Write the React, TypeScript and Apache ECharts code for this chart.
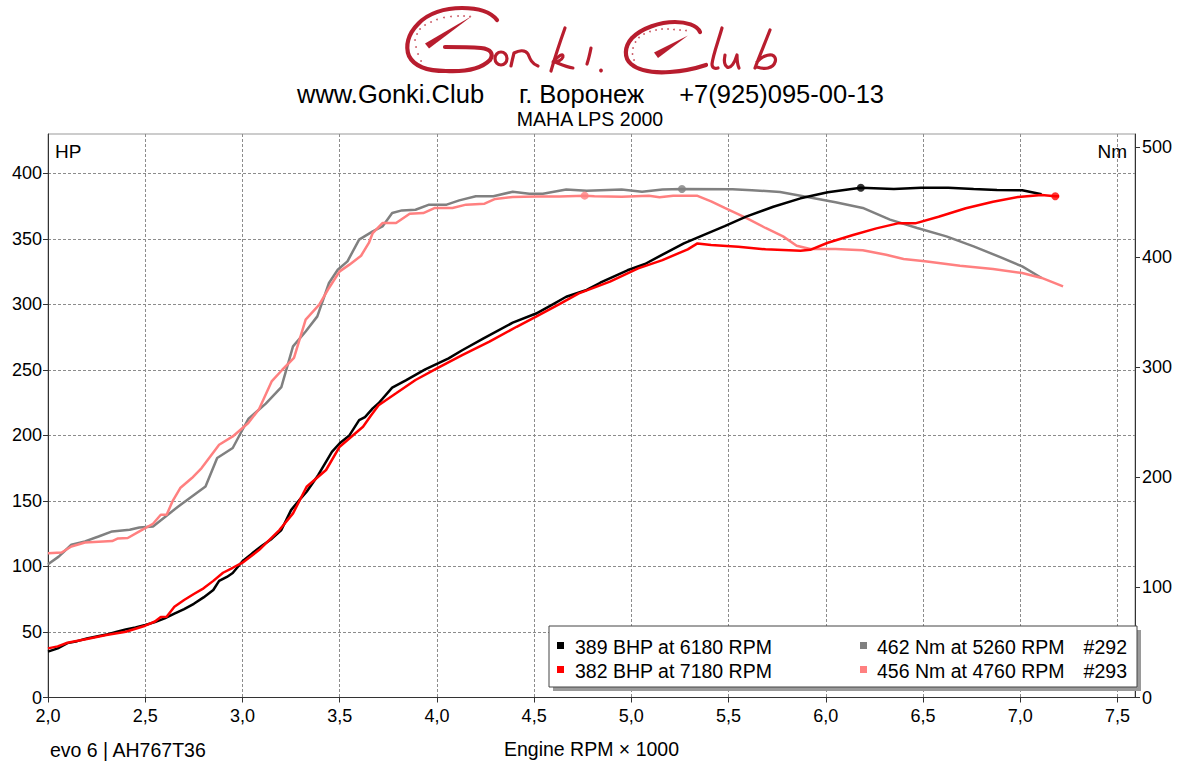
import React, { useEffect, useRef } from "react";
import * as echarts from "echarts";

// ---------- data ----------
const X_TICKS = [2.0, 2.5, 3.0, 3.5, 4.0, 4.5, 5.0, 5.5, 6.0, 6.5, 7.0, 7.5];
const HP_TICKS = [0, 50, 100, 150, 200, 250, 300, 350, 400];
const NM_TICKS = [0, 100, 200, 300, 400, 500];

// run #292 power (BHP) vs RPM x1000
const BHP_292: [number, number][] = [
  [2.0, 35], [2.05, 37.5], [2.1, 41.5], [2.15, 43], [2.2, 45], [2.25, 46.5], [2.3, 48], [2.35, 50],
  [2.4, 52], [2.45, 53.5], [2.5, 55.3], [2.55, 57.5], [2.6, 60.4], [2.65, 64], [2.7, 67.5], [2.75, 71.5],
  [2.8, 76.4], [2.85, 82], [2.88, 89], [2.92, 92], [2.95, 95], [3.0, 104], [3.05, 110], [3.1, 115.8],
  [3.15, 121], [3.2, 127.8], [3.25, 143], [3.3, 152], [3.33, 157], [3.39, 169.8], [3.46, 187.5], [3.5, 194],
  [3.55, 200], [3.6, 211.7], [3.63, 214], [3.67, 220.6], [3.7, 224.5], [3.77, 236.5], [3.84, 242], [3.94, 250.4],
  [4.06, 258.8], [4.13, 265], [4.24, 274], [4.39, 286], [4.51, 293], [4.58, 298.7], [4.665, 305.8], [4.77, 311],
  [4.84, 316.5], [4.98, 326], [5.07, 330.8], [5.16, 338], [5.27, 346.5], [5.37, 352.9], [5.48, 359.7], [5.59, 366.9],
  [5.73, 374.5], [5.87, 380.9], [6.01, 385.5], [6.18, 389], [6.35, 388], [6.49, 389], [6.63, 389], [6.76, 388],
  [6.88, 387.2], [7.01, 387], [7.11, 384],
];

// run #293 power (BHP)
const BHP_293: [number, number][] = [
  [2.0, 37.5], [2.05, 39], [2.1, 41.8], [2.2, 44.6], [2.3, 47.7], [2.4, 50.2], [2.5, 54.8], [2.55, 58],
  [2.58, 61.5], [2.61, 61.6], [2.65, 69.3], [2.7, 74.4], [2.75, 79], [2.8, 83.3], [2.85, 89], [2.9, 95.2],
  [2.95, 99], [3.0, 102.9], [3.085, 112.5], [3.19, 127.8], [3.26, 140.5], [3.33, 160.8], [3.43, 173.6], [3.5, 191.4],
  [3.62, 206.6], [3.66, 215], [3.7, 223], [3.79, 232.1], [3.89, 242.3], [4.0, 251.2], [4.13, 261.3], [4.27, 271.5],
  [4.41, 282.9], [4.51, 290.6], [4.63, 300.2], [4.73, 308.4], [4.89, 317.3], [5.035, 327.5], [5.16, 333.8], [5.29, 342],
  [5.34, 346.5], [5.41, 345.3], [5.55, 344], [5.69, 342], [5.87, 341], [5.92, 341.6], [6.01, 347], [6.14, 352.9],
  [6.26, 358], [6.37, 361.8], [6.46, 361.8], [6.58, 366.9], [6.72, 373.3], [6.86, 378.3], [6.99, 382], [7.11, 383.5],
  [7.18, 382.5], [7.2, 382.5],
];

// run #292 torque (Nm)
const NM_292: [number, number][] = [
  [2.0, 121], [2.055, 128], [2.12, 138.8], [2.19, 141.8], [2.26, 146.3], [2.33, 150.9], [2.42, 152.4], [2.47, 154.5],
  [2.54, 155.4], [2.605, 164.5], [2.67, 173.6], [2.74, 182.7], [2.81, 191.8], [2.87, 217.6], [2.95, 226.7], [3.0, 243.3],
  [3.03, 253], [3.12, 267], [3.2, 282], [3.26, 319], [3.325, 332.6], [3.385, 346.3], [3.445, 376.6], [3.49, 388.7],
  [3.54, 396.3], [3.6, 416], [3.67, 423.5], [3.72, 428], [3.77, 440.2], [3.82, 442.6], [3.89, 443.2], [3.96, 447.8],
  [4.05, 447.8], [4.115, 451.7], [4.2, 455.5], [4.29, 455.5], [4.39, 459.5], [4.475, 457.8], [4.545, 457.8], [4.665, 461.5],
  [4.77, 460.5], [4.95, 461.5], [5.055, 459.5], [5.16, 461.5], [5.26, 462], [5.52, 461.8], [5.62, 461], [5.765, 459.3],
  [5.905, 454.8], [6.05, 449.9], [6.19, 444.8], [6.33, 434.2], [6.47, 426.6], [6.62, 419], [6.76, 409.9], [6.9, 399.9],
  [7.01, 391.7], [7.11, 381.2],
];

// run #293 torque (Nm)
const NM_293: [number, number][] = [
  [2.0, 131], [2.07, 131.8], [2.12, 137.2], [2.19, 140.9], [2.26, 141.5], [2.33, 142.1], [2.36, 144.5], [2.41, 144.9],
  [2.47, 150.9], [2.54, 157.9], [2.58, 166], [2.61, 166], [2.64, 178.1], [2.68, 190.3], [2.74, 199.4], [2.79, 208.5],
  [2.88, 229.7], [2.95, 237.2], [3.03, 249.4], [3.085, 262], [3.15, 287.2], [3.205, 297.8], [3.265, 308.5], [3.325, 343.3],
  [3.395, 356.9], [3.445, 372.1], [3.5, 387.2], [3.55, 393.3], [3.61, 401.4], [3.65, 413], [3.67, 422], [3.72, 431.1],
  [3.79, 431.1], [3.86, 439.6], [3.93, 440.2], [3.99, 444.8], [4.08, 444.8], [4.15, 447.8], [4.245, 448.7], [4.3, 453],
  [4.39, 454.8], [4.51, 455.3], [4.63, 455.3], [4.76, 456], [4.81, 455.5], [4.95, 455], [5.09, 455.8], [5.145, 454.5],
  [5.215, 455.8], [5.34, 455.8], [5.41, 450.8], [5.48, 444.8], [5.59, 435.7], [5.69, 426.6], [5.78, 419], [5.85, 410.5],
  [5.92, 407.5], [6.05, 407.5], [6.19, 406.3], [6.31, 402.3], [6.4, 398.4], [6.51, 396.3], [6.69, 392.3], [6.86, 389.3],
  [7.01, 385.7], [7.11, 381.2], [7.22, 373.5],
];

const PEAK_BHP_292: [number, number] = [6.18, 389];
const PEAK_BHP_293: [number, number] = [7.18, 382.5];
const PEAK_NM_292: [number, number] = [5.26, 462];
const PEAK_NM_293: [number, number] = [4.76, 456];

const LEGEND_ROWS = [
  { left: "389 BHP at 6180 RPM", right: "462 Nm at 5260 RPM", run: "#292", c1: "#000000", c2: "#808080" },
  { left: "382 BHP at 7180 RPM", right: "456 Nm at 4760 RPM", run: "#293", c1: "#ff0000", c2: "#ff8080" },
];

const TITLE_SITE = "www.Gonki.Club";
const TITLE_CITY = "г. Воронеж";
const TITLE_PHONE = "+7(925)095-00-13";
const SUBTITLE = "MAHA LPS 2000";
const FOOTER_LEFT = "evo 6 | AH767T36";
const X_NAME = "Engine RPM × 1000";

// ---------- logo shapes ----------
const LOGO_RED = "#b81d2e";
const LOGO_PATHS: { name: string; d: string; w: number }[] = [
  { name: "logoG", d: "M497,20 C490,11 476,8 462,8 C445,8 428,13 418,24 C408,34 405,46 409,56 C414,66 428,71 446,71 C466,72 482,68 490,60 C494,54 491,49 481,48 C469,47 456,47 445,47", w: 4.2 },
  { name: "logoN", d: "M511,66 C512,61 513,57 514,53 C518,51 525,49 528,54 C530,59 532,64 538,66", w: 3.2 },
  { name: "logoK1", d: "M565,28 C560,42 555,57 551,71", w: 3.2 },
  { name: "logoK2", d: "M553,62 C558,56 564,52 563,57 C562,60 557,62 555,62 C560,64 566,67 573,68", w: 3 },
  { name: "logoI", d: "M591,48 C590,53 589,58 587,64", w: 3.2 },
  { name: "logoC", d: "M700,32 C697,25 686,22 675,22 C660,22 642,28 632,38 C624,47 624,58 631,64 C639,71 655,73 670,72 C685,71 697,68 706,65", w: 4.2 },
  { name: "logoL", d: "M722,28 C718,42 713,55 712,64 C712,68 715,69 718,68", w: 3.2 },
  { name: "logoU", d: "M725,55 C724,60 724,65 727,67 C731,69 735,62 737,55 C737,60 737,64 739,68", w: 3.2 },
  { name: "logoB", d: "M770,30 C765,43 759,57 755,68 M757,62 C761,57 768,54 772,55 C778,57 776,66 768,68 C764,69 760,68 757,67", w: 3.2 },
];
const G_DOTS: [number, number][] = [
  [421, 61], [418, 54], [416, 47], [415, 40], [417, 34], [420, 29], [425, 25], [431, 22], [437, 19.5], [444, 17.5],
  [451, 16.5], [458, 16], [464, 16], [470, 16.5],
];
const C_DOTS: [number, number][] = [
  [634, 60], [632.5, 54], [633, 48], [635.5, 42], [639, 37.5], [644, 34], [650, 31.5], [656, 30], [662, 29],
  [668, 29], [674, 29.5], [680, 30], [686, 30.5],
];

let shapesRegistered = false;
function registerLogo() {
  if (shapesRegistered) return;
  LOGO_PATHS.forEach((p) => {
    echarts.graphic.registerShape(p.name, echarts.graphic.extendPath(p.d, {}));
  });
  shapesRegistered = true;
}

const FONT = '"Liberation Sans", Arial, sans-serif';

function buildGraphic(): any[] {
  const els: any[] = [];
  // logo
  LOGO_PATHS.forEach((p) => {
    els.push({
      type: p.name, x: 0, y: 0, z: 20,
      style: { stroke: LOGO_RED, lineWidth: p.w, fill: null, lineCap: "round", lineJoin: "round" },
    });
  });
  els.push({ type: "ellipse", z: 20, shape: { cx: 501, cy: 58.5, rx: 6, ry: 6.5 }, style: { stroke: LOGO_RED, lineWidth: 3.2, fill: null } });
  els.push({ type: "circle", z: 20, shape: { cx: 601, cy: 70.5, r: 1.9 }, style: { fill: LOGO_RED } });
  els.push({ type: "polygon", z: 20, shape: { points: [[425, 43.5], [429, 48.5], [472, 16]] }, style: { fill: LOGO_RED } });
  els.push({ type: "polygon", z: 20, shape: { points: [[654, 52.5], [658, 58], [688, 35.5]] }, style: { fill: LOGO_RED } });
  [...G_DOTS, ...C_DOTS].forEach(([cx, cy]) => {
    els.push({ type: "circle", z: 20, shape: { cx, cy, r: 0.9 }, style: { fill: LOGO_RED, opacity: 0.75 } });
  });

  // title lines
  const tfont = `25.5px ${FONT}`;
  els.push({ type: "text", x: 297, y: 94, z: 20, style: { text: TITLE_SITE, font: tfont, fill: "#000", textAlign: "left", textVerticalAlign: "middle" } });
  els.push({ type: "text", x: 519, y: 94, z: 20, style: { text: TITLE_CITY, font: tfont, fill: "#000", textAlign: "left", textVerticalAlign: "middle" } });
  els.push({ type: "text", x: 884, y: 94, z: 20, style: { text: TITLE_PHONE, font: tfont, fill: "#000", textAlign: "right", textVerticalAlign: "middle" } });
  els.push({ type: "text", x: 590, y: 119, z: 20, style: { text: SUBTITLE, font: `19.5px ${FONT}`, fill: "#000", textAlign: "center", textVerticalAlign: "middle" } });

  // axis unit labels
  els.push({ type: "text", x: 55, y: 151, z: 20, style: { text: "HP", font: `19px ${FONT}`, fill: "#000", textAlign: "left", textVerticalAlign: "middle" } });
  els.push({ type: "text", x: 1127, y: 151, z: 20, style: { text: "Nm", font: `19px ${FONT}`, fill: "#000", textAlign: "right", textVerticalAlign: "middle" } });

  // footer
  els.push({ type: "text", x: 50, y: 750, z: 20, style: { text: FOOTER_LEFT, font: `19.5px ${FONT}`, fill: "#000", textAlign: "left", textVerticalAlign: "middle" } });

  // legend box
  els.push({ type: "rect", z: 30, shape: { x: 553, y: 630, width: 588, height: 61 }, style: { fill: "#9a9a9a" } });
  els.push({ type: "rect", z: 31, shape: { x: 549, y: 626, width: 588, height: 61 }, style: { fill: "#ffffff", stroke: "#444", lineWidth: 1 } });
  LEGEND_ROWS.forEach((r, i) => {
    const cy = 647 + i * 24;
    const f = `19.5px ${FONT}`;
    els.push({ type: "rect", z: 32, shape: { x: 557, y: cy - 5, width: 7, height: 7 }, style: { fill: r.c1 } });
    els.push({ type: "text", x: 575, y: cy, z: 32, style: { text: r.left, font: f, fill: "#000", textAlign: "left", textVerticalAlign: "middle" } });
    els.push({ type: "rect", z: 32, shape: { x: 860, y: cy - 5, width: 7, height: 7 }, style: { fill: r.c2 } });
    els.push({ type: "text", x: 877, y: cy, z: 32, style: { text: r.right, font: f, fill: "#000", textAlign: "left", textVerticalAlign: "middle" } });
    els.push({ type: "text", x: 1127, y: cy, z: 32, style: { text: r.run, font: f, fill: "#000", textAlign: "right", textVerticalAlign: "middle" } });
  });
  return els;
}

const fmtX = (v: number) => v.toFixed(1).replace(".", ",");

function lineSeries(name: string, data: [number, number][], color: string, yAxisIndex: number) {
  return {
    name, type: "line", data, yAxisIndex, showSymbol: false, symbol: "none",
    lineStyle: { color, width: 2.5 }, itemStyle: { color }, z: 5,
  };
}
function peakSeries(name: string, p: [number, number], color: string, yAxisIndex: number) {
  return {
    name, type: "scatter", data: [p], yAxisIndex, symbol: "circle", symbolSize: 8,
    itemStyle: { color }, z: 6,
  };
}

export default function App() {
  const ref = useRef<HTMLDivElement>(null);
  useEffect(() => {
    if (!ref.current) return;
    registerLogo();
    const chart = echarts.init(ref.current, null, { renderer: "svg" });
    const axisLineColor = "#333";
    const labelStyle = { fontFamily: FONT, fontSize: 18, color: "#000", lineHeight: 14 };
    const option: any = {
      animation: false,
      backgroundColor: "#ffffff",
      grid: { left: 48, right: 47, top: 134, bottom: 72.5, show: true, borderColor: "#999", borderWidth: 1, backgroundColor: "transparent" },
      xAxis: {
        type: "value", min: 2, max: 7.59, interval: 0.5,
        name: X_NAME, nameLocation: "middle", nameGap: 41,
        nameTextStyle: { fontFamily: FONT, fontSize: 19.5, color: "#000" },
        axisLine: { show: true, lineStyle: { color: axisLineColor, width: 1 } },
        axisTick: { show: true, length: 5, lineStyle: { color: axisLineColor }, customValues: X_TICKS },
        axisLabel: { ...labelStyle, margin: 11, formatter: fmtX, customValues: X_TICKS },
        splitLine: { show: true, lineStyle: { color: "#8c8c8c", type: [3, 2], width: 1 } },
      },
      yAxis: [
        {
          type: "value", min: 0, max: 430, interval: 50, position: "left",
          axisLine: { show: true, lineStyle: { color: axisLineColor, width: 1 } },
          axisTick: { show: true, length: 5, lineStyle: { color: axisLineColor }, customValues: HP_TICKS },
          axisLabel: { ...labelStyle, margin: 6, customValues: HP_TICKS },
          splitLine: { show: true, lineStyle: { color: "#8c8c8c", type: [3, 2], width: 1 } },
        },
        {
          type: "value", min: 0, max: 512, interval: 100, position: "right",
          axisLine: { show: true, lineStyle: { color: axisLineColor, width: 1 } },
          axisTick: { show: true, length: 5, lineStyle: { color: axisLineColor }, customValues: NM_TICKS },
          axisLabel: { ...labelStyle, margin: 7, customValues: NM_TICKS },
          splitLine: { show: false },
        },
      ],
      series: [
        lineSeries("Nm #292", NM_292, "#808080", 1),
        lineSeries("Nm #293", NM_293, "#ff8080", 1),
        lineSeries("BHP #292", BHP_292, "#000000", 0),
        lineSeries("BHP #293", BHP_293, "#ff0000", 0),
        peakSeries("Peak Nm #292", PEAK_NM_292, "#808080", 1),
        peakSeries("Peak Nm #293", PEAK_NM_293, "#ff8080", 1),
        peakSeries("Peak BHP #292", PEAK_BHP_292, "#000000", 0),
        peakSeries("Peak BHP #293", PEAK_BHP_293, "#ff0000", 0),
      ],
      graphic: { elements: buildGraphic() },
    };
    chart.setOption(option);
    return () => chart.dispose();
  }, []);
  return <div ref={ref} style={{ position: "fixed", left: 0, top: 0, width: 1182, height: 770 }} />;
}
